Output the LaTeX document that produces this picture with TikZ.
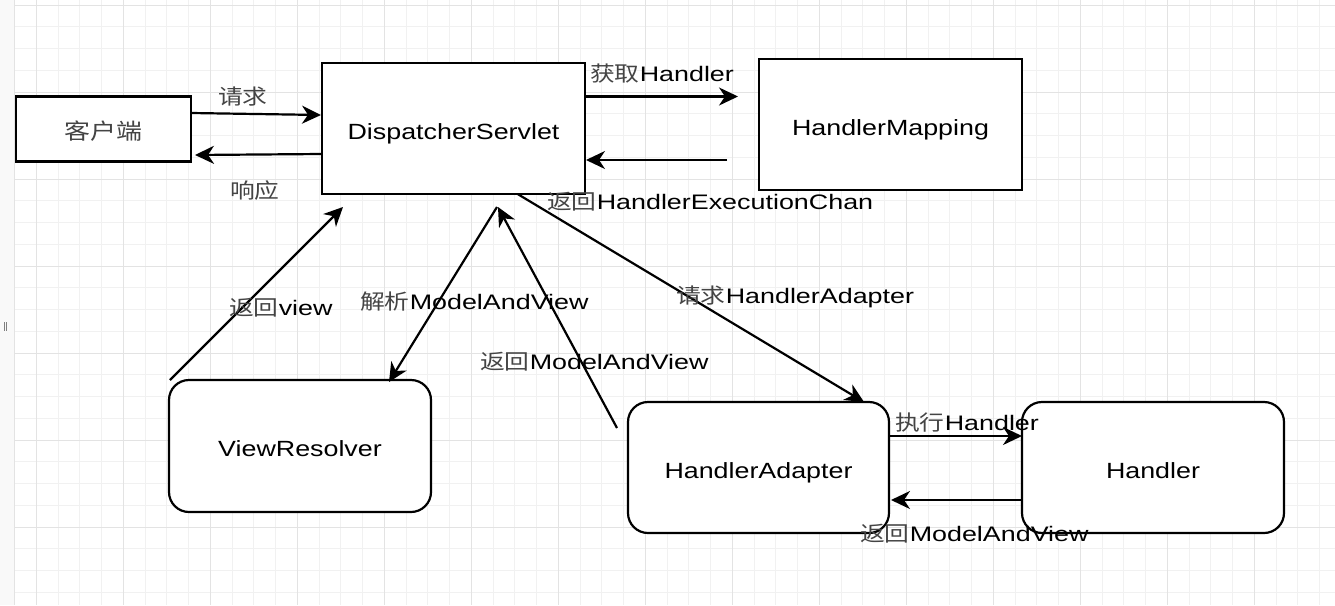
\documentclass[tikz,border=0pt]{standalone}
\usepackage{fontspec}
\setmainfont{Liberation Sans}[FakeStretch=1.22]
\newfontfamily\lblfont{Liberation Sans}[FakeStretch=1.28]
\newfontfamily\cjk{Noto Sans CJK SC}[FakeStretch=1.18]
\usetikzlibrary{arrows.meta,calc}
\definecolor{gridminor}{HTML}{F1F1F1}
\definecolor{gridmajor}{HTML}{E3E3E3}
\definecolor{stripbg}{HTML}{F9F9F9}
\definecolor{cjkgray}{HTML}{444444}
\newcommand{\zhtxt}[1]{{\cjk\color{cjkgray}#1}}
\tikzset{
  sbox/.style={draw, line width=2.2pt, inner sep=0pt, outer sep=0pt, fill=white,
    text height=21pt, text depth=0pt, font=\fontsize{22}{26}\selectfont},
  rbox/.style={sbox, rounded corners=20pt},
  arr/.style={line width=2.2pt, -{Stealth[length=19pt,width=18pt,inset=6pt]}},
  lbl/.style={anchor=west, inner sep=0pt, font=\lblfont\fontsize{21}{25}\selectfont},
  gmin/.style={draw=gridminor, line width=1pt},
  gmaj/.style={draw=gridmajor, line width=1pt},
}
\begin{document}
\begin{tikzpicture}[x=1pt,y=-1pt]
\useasboundingbox (0,0) rectangle (1335,605);
\fill[white] (0,0) rectangle (1335,605);
% grid
\foreach \k in {0,...,60} { \draw[gmin] ({14.55+21.75*\k},0) -- ++(0,605); }
\foreach \k in {0,...,27} { \draw[gmin] (14,{5+21.75*\k}) -- (1335,{5+21.75*\k}); }
\foreach \k in {0,...,14} { \draw[gmaj] ({36.3+87*\k},0) -- ++(0,605); }
\foreach \k in {0,...,6} { \draw[gmaj] (14,{5+87*\k}) -- (1335,{5+87*\k}); }
\fill[stripbg] (0,0) rectangle (14,605);
\draw[gmaj] (14,0) -- (14,605);
\draw[gray, line width=1pt] (4,322) -- (4,331) (6.5,322) -- (6.5,331);

% nodes
\node[sbox, minimum width=175pt, minimum height=65pt] (client) at (103.5,129) {\zhtxt{客户端}};
\node[sbox, minimum width=263pt, minimum height=131pt] (ds) at (453.5,128.75) {DispatcherServlet};
\node[sbox, minimum width=263pt, minimum height=131pt] (hm) at (890.5,124.5) {HandlerMapping};
\node[rbox, minimum width=262pt, minimum height=132pt] (vr) at (300,446) {ViewResolver};
\node[rbox, minimum width=261pt, minimum height=131pt] (ha) at (758.5,467.5) {HandlerAdapter};
\node[rbox, minimum width=262pt, minimum height=131pt] (h) at (1153,467.5) {Handler};

% free ends
\coordinate (hmin) at (738,96.5);
\coordinate (hmout) at (727,160);
\coordinate (dsA) at (498,207);
\coordinate (dsB) at (497,207);
\coordinate (dsC) at (343,207);
\coordinate (haOut) at (617,428);
\coordinate (vrOut) at (170,380);

% connectors
\draw[arr] ($(client.east)+(0,-16)$) -- ($(ds.west)+(-1,-13.75)$);
\draw[arr] ($(ds.west)+(0,25.25)$) -- ($(client.east)+(4,26)$);
\draw[arr] ($(ds.east)+(0,-32.25)$) -- (hmin);
\draw[arr] (hmout) -- ($(ds.east)+(1,31.25)$);
\draw[arr] ($(ds.south)+(64.5,0)$) -- ($(ha.north)+(105.5,0)$);
\draw[arr] ($(ha.east)+(0,-31.5)$) -- ($(h.west)+(0,-31.5)$);
\draw[arr] ($(h.west)+(0,32.5)$) -- ($(ha.east)+(2,32.5)$);
\draw[arr] (haOut) -- (dsA);
\draw[arr] (dsB) -- ($(vr.north)+(89,2)$);
\draw[arr] (vrOut) -- (dsC);

% labels
\node[lbl] (l1) at (218,97) {\zhtxt{请求}};
\node[lbl] (l2) at (230,191) {\zhtxt{响应}};
\node[lbl] (l3) at (590,74) {\zhtxt{获取}Handler};
\node[lbl] (l4) at (547,202) {\zhtxt{返回}HandlerExecutionChan};
\node[lbl] (l5) at (229,308) {\zhtxt{返回}view};
\node[lbl] (l6) at (360,301.5) {\zhtxt{解析}ModelAndView};
\node[lbl] (l7) at (480,362) {\zhtxt{返回}ModelAndView};
\node[lbl] (l8) at (676,297) {\zhtxt{请求}HandlerAdapter};
\node[lbl] (l9) at (895,423) {\zhtxt{执行}Handler};
\node[lbl] (l10) at (860,534) {\zhtxt{返回}ModelAndView};
\end{tikzpicture}
\end{document}
